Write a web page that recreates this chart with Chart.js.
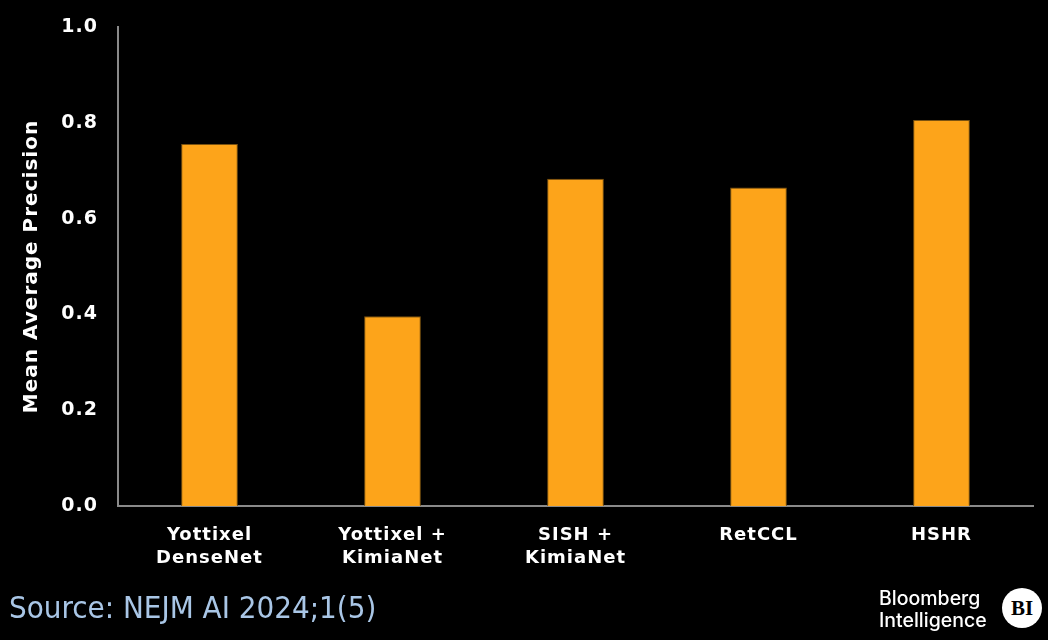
<!DOCTYPE html>
<html><head><meta charset="utf-8">
<script src="https://cdn.jsdelivr.net/npm/chart.js@4/dist/chart.umd.min.js"></script>
<style>
html,body{margin:0;padding:0;background:#000;}
#wrap{position:relative;width:1048px;height:640px;background:#000;overflow:hidden;}
#c{position:absolute;left:0;top:0;}
#src{position:absolute;left:9px;top:589px;font-family:"DejaVu Sans Condensed","DejaVu Sans",sans-serif;font-size:31px;line-height:36px;color:#a9c6e6;white-space:nowrap;}
#logo{position:absolute;left:879px;top:587px;font-family:Inter,"Open Sans",sans-serif;font-weight:500;font-size:19.5px;line-height:22px;color:#fff;}
#bi{position:absolute;left:1002px;top:588px;width:40px;height:40px;border-radius:50%;background:#fff;color:#000;font-family:"Liberation Serif",serif;font-weight:bold;font-size:21px;line-height:40px;text-align:center;}
</style></head>
<body><div id="wrap"><canvas id="c" width="1048" height="640"></canvas>
<div id="src">Source: NEJM AI 2024;1(5)</div>
<div id="logo">Bloomberg<br>Intelligence</div>
<div id="bi">BI</div>
</div>
<script>
const categories = [["Yottixel","DenseNet"],["Yottixel +","KimiaNet"],["SISH +","KimiaNet"],["RetCCL"],["HSHR"]];
const values = [0.756, 0.396, 0.683, 0.665, 0.806];
const yTicks = [0.0, 0.2, 0.4, 0.6, 0.8, 1.0];
const yTitle = "Mean Average Precision";

const spacing = {
  id: 'spacing',
  beforeInit(chart) { chart.ctx.letterSpacing = '1px'; },
  beforeUpdate(chart) { chart.ctx.letterSpacing = '1px'; },
  beforeDraw(chart) { chart.ctx.letterSpacing = '1px'; }
};
const fam = '"DejaVu Sans", Verdana, sans-serif';

new Chart(document.getElementById('c'), {
  type: 'bar',
  plugins: [spacing],
  data: {
    labels: categories,
    datasets: [{
      data: values,
      backgroundColor: '#FDA41A',
      borderColor: '#7a5210',
      borderWidth: 1,
      barPercentage: 0.31,
      categoryPercentage: 1.0
    }]
  },
  options: {
    responsive: false,
    animation: false,
    layout: {padding: {top: 27, right: 15, left: 0, bottom: 0}},
    plugins: {legend: {display: false}, tooltip: {enabled: false}},
    scales: {
      x: {
        grid: {display: false, drawTicks: false},
        border: {display: true, color: '#8a8a8a', width: 2},
        ticks: {color: '#fff', font: {family: fam, size: 18, weight: 'bold', lineHeight: 1.28}, padding: 18, maxRotation: 0, autoSkip: false},
        afterFit: s => { s.height = 134; s.paddingLeft = 0; s.paddingRight = 0; }
      },
      y: {
        min: 0, max: 1,
        afterBuildTicks: s => { s.ticks = yTicks.map(v => ({value: v})); },
        grid: {display: false, drawTicks: false},
        border: {display: true, color: '#8a8a8a', width: 2},
        ticks: {color: '#fff', font: {family: fam, size: 19, weight: 'bold'}, padding: 20, callback: v => v.toFixed(1)},
        title: {display: true, text: yTitle, color: '#fff', font: {family: fam, size: 20, weight: 'bold'}, padding: {top: 20, bottom: 0}},
        afterFit: s => { s.width = 118; s.paddingTop = 0; s.paddingBottom = 0; }
      }
    }
  }
});
</script></body></html>
